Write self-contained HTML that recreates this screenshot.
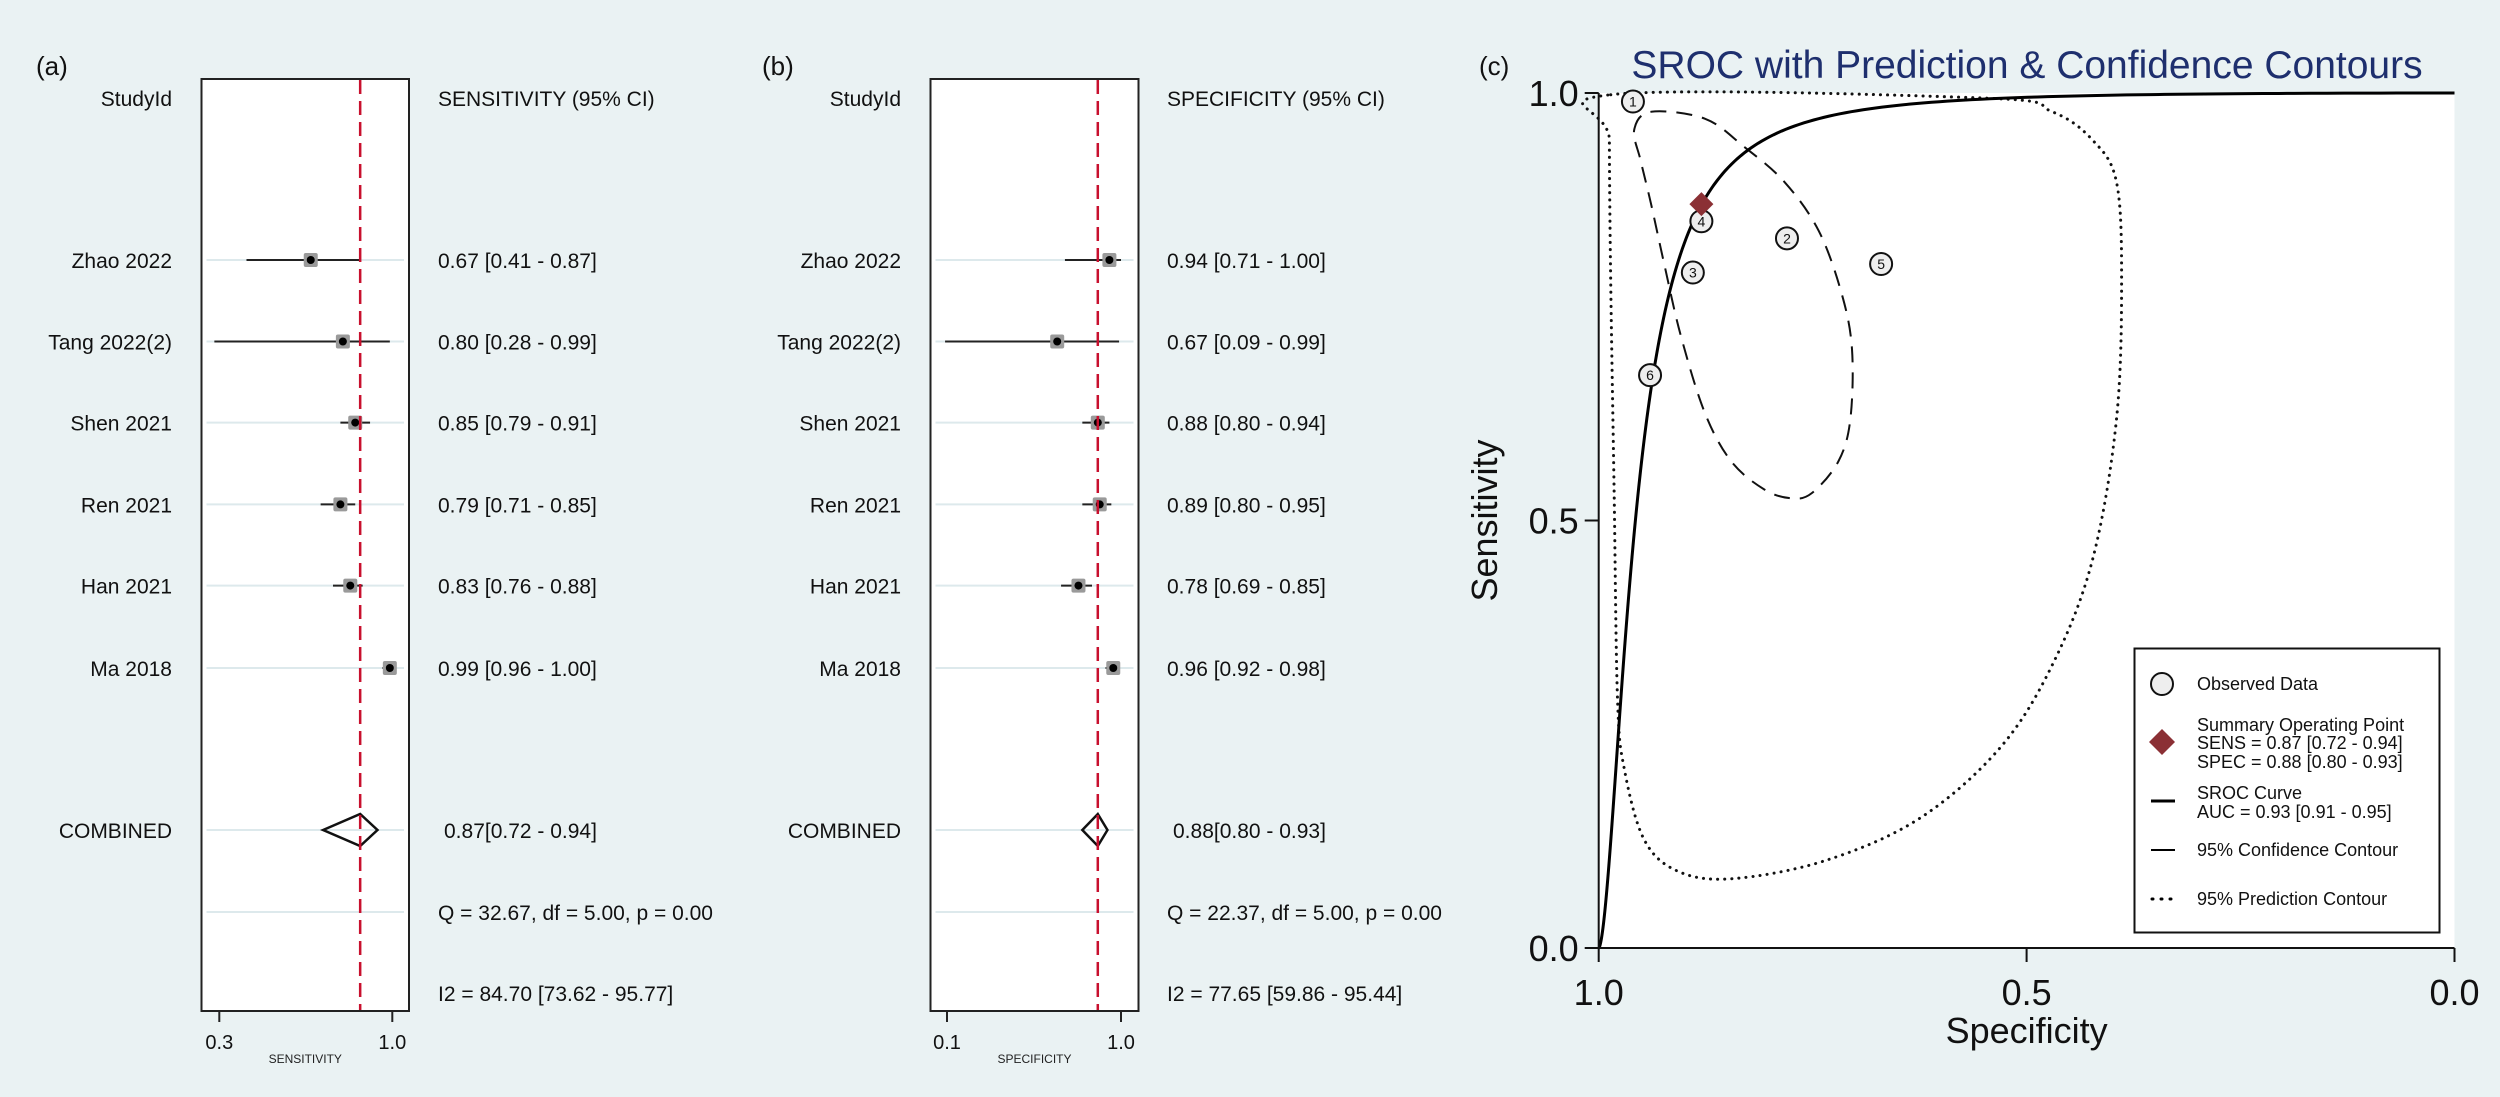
<!DOCTYPE html>
<html><head><meta charset="utf-8">
<style>
html,body{margin:0;padding:0;background:#eaf2f3;}
svg{display:block;font-family:"Liberation Sans",sans-serif;}
</style></head>
<body>
<svg id="fig" width="2500" height="1097" viewBox="0 0 2500 1097" xmlns="http://www.w3.org/2000/svg">
<rect width="2500" height="1097" fill="#eaf2f3"/>
<g id="pa"></g>
<g id="pb"></g>
<g id="pc"></g>
</svg>
<script>
const studies = ["Zhao 2022","Tang 2022(2)","Shen 2021","Ren 2021","Han 2021","Ma 2018"];
const sensEst = [0.67,0.80,0.85,0.79,0.83,0.99];
const sensLo  = [0.41,0.28,0.79,0.71,0.76,0.96];
const sensHi  = [0.87,0.99,0.91,0.85,0.88,1.00];
const specEst = [0.94,0.67,0.88,0.89,0.78,0.96];
const specLo  = [0.71,0.09,0.80,0.80,0.69,0.92];
const specHi  = [1.00,0.99,0.94,0.95,0.85,0.98];
const sensPooled = [0.87,0.72,0.94];
const specPooled = [0.88,0.80,0.93];
const sensStats = ["Q = 32.67, df = 5.00, p =  0.00","I2 = 84.70 [73.62 - 95.77]"];
const specStats = ["Q = 22.37, df = 5.00, p =  0.00","I2 = 77.65 [59.86 - 95.44]"];
const sensTicks = [0.3,1.0];
const specTicks = [0.1,1.0];
// SROC (c)
const pointLabels = ["1","2","3","4","5","6"];
const srocSens = [0.99,0.83,0.79,0.85,0.80,0.67];
const srocSpec = [0.96,0.78,0.89,0.88,0.67,0.94];
const summarySens = 0.87, summarySpec = 0.88;
const srocParams = [5.28,1.7]; // logit(sens)=a+b*logit(1-spec)
const confSpec = [.9585,.939,.876,.830,.783,.743,.716,.704,.706,.720,.751,.775,.806,.845,.876,.904,.923,.939,.951];
const confSens = [.957,.978,.970,.937,.896,.839,.765,.700,.618,.569,.532,.526,.536,.569,.626,.716,.798,.871,.921];
const predSpec = [.986,.548,.470,.423,.395,.389,.395,.423,.470,.532,.626,.736,.845,.908,.947,.970,.978,.982,.986,.9875];
const predSens = [.998,.994,.978,.945,.896,.782,.618,.454,.331,.233,.151,.102,.081,.090,.127,.209,.291,.536,.782,.945];
const axisTicks = [0,0.5,1];
const axisTickLabels = ["0.0","0.5","1.0"];

const NS="http://www.w3.org/2000/svg";
function mk(parent,tag,attrs,text){const e=document.createElementNS(NS,tag);for(const k in attrs)e.setAttribute(k,attrs[k]);if(text!==undefined)e.textContent=text;parent.appendChild(e);return e;}

const rowY=[260,341.5,422.6,504.4,585.6,668];
const combY=830, qY=912, iY=993;

function forest(g,o){
  const box=mk(g,'rect',{x:o.bx0,y:79,width:o.bx1-o.bx0,height:1011-79,fill:'#fff',stroke:'#222','stroke-width':2});
  
  
  const X=v=>o.t0x+(v-o.ticks[0])/(o.ticks[1]-o.ticks[0])*(o.t1x-o.t0x);
  const lab=mk(g,'text',{x:o.lx,y:75,'font-size':26,fill:'#111'},o.label);
  
  
  const h1=mk(g,'text',{x:o.nameX,y:106,'font-size':21,'text-anchor':'end',fill:'#111'},'StudyId');
  
  
  const h2=mk(g,'text',{x:o.valX,y:106,'font-size':21,fill:'#111'},o.header);
  
  
  [...rowY,combY,qY].forEach(y=>{const l=mk(g,'line',{x1:o.bx0+5,x2:o.bx1-5,y1:y,y2:y,stroke:'#dde9ec','stroke-width':2});
    
    });
  for(let i=0;i<studies.length;i++){
    const y=rowY[i];
    const n=mk(g,'text',{x:o.nameX,y:y+8,'font-size':21,'text-anchor':'end',fill:'#111'},studies[i]);
    
    
    const ci=mk(g,'line',{x1:X(o.lo[i]),x2:X(o.hi[i]),y1:y,y2:y,stroke:'#222','stroke-width':2});
    
    
    const sq=mk(g,'rect',{x:X(o.est[i])-7,y:y-7,width:14,height:14,rx:2,fill:'#9a9a9a'});
    
    
    const d=mk(g,'circle',{cx:X(o.est[i]),cy:y,r:4,fill:'#000'});
    
    
    const v=mk(g,'text',{x:o.valX,y:y+8,'font-size':21,fill:'#111'},o.est[i].toFixed(2)+' ['+o.lo[i].toFixed(2)+' - '+o.hi[i].toFixed(2)+']');
    
    
  }
  const p=o.pooled;
  const dm=mk(g,'polygon',{points:`${X(p[1])},${combY} ${X(p[0])},${combY-16} ${X(p[2])},${combY} ${X(p[0])},${combY+16}`,fill:'none',stroke:'#111','stroke-width':2.5});
  
  
  const rl=mk(g,'line',{x1:X(p[0]),x2:X(p[0]),y1:80,y2:1010,stroke:'#c8102e','stroke-width':2.5,'stroke-dasharray':'14 7'});
  
  
  const cn=mk(g,'text',{x:o.nameX,y:combY+8,'font-size':21,'text-anchor':'end',fill:'#111'},'COMBINED');
  
  
  const cv=mk(g,'text',{x:o.valX+6,y:combY+8,'font-size':21,fill:'#111'},p[0].toFixed(2)+'['+p[1].toFixed(2)+' - '+p[2].toFixed(2)+']');
  
  
  const q=mk(g,'text',{x:o.valX,y:qY+8,'font-size':21,fill:'#111'},o.stats[0]);
  
  
  const i2=mk(g,'text',{x:o.valX,y:iY+8,'font-size':21,fill:'#111'},o.stats[1]);
  
  
  o.ticks.forEach(t=>{
    const tk=mk(g,'line',{x1:X(t),x2:X(t),y1:1011,y2:1022,stroke:'#222','stroke-width':2});
    
    
    const tl=mk(g,'text',{x:X(t),y:1049,'font-size':20,'text-anchor':'middle',fill:'#111'},t.toFixed(1));
    
    
  });
  const at=mk(g,'text',{x:(o.bx0+o.bx1)/2,y:1063,'font-size':12,'text-anchor':'middle',fill:'#222'},o.axis);
  
  
}
forest(document.getElementById('pa'),{bx0:201.5,bx1:409,t0x:219.3,t1x:392.3,ticks:sensTicks,est:sensEst,lo:sensLo,hi:sensHi,pooled:sensPooled,stats:sensStats,nameX:172,valX:438,lx:36,label:'(a)',header:'SENSITIVITY (95% CI)',axis:'SENSITIVITY'});
forest(document.getElementById('pb'),{bx0:930.5,bx1:1138.5,t0x:947,t1x:1121,ticks:specTicks,est:specEst,lo:specLo,hi:specHi,pooled:specPooled,stats:specStats,nameX:901,valX:1167,lx:762,label:'(b)',header:'SPECIFICITY (95% CI)',axis:'SPECIFICITY'});

// Panel C
(function(){
  const g=document.getElementById('pc');
  const x0=1598.7,x1=2454.5,y0=93,y1=948;
  const X=spec=>x0+(1-spec)*(x1-x0);
  const Y=sens=>y1-sens*(y1-y0);
  const pa=mk(g,'rect',{x:x0,y:y0,width:x1-x0,height:y1-y0,fill:'#fff'});
  
  
  const lab=mk(g,'text',{x:1479,y:75,'font-size':26,fill:'#111'},'(c)');
  
  
  const tt=mk(g,'text',{x:2027,y:78,'font-size':39,'text-anchor':'middle',fill:'#1e2f6e'},'SROC with Prediction & Confidence Contours');
  
  
  // smooth closed path
  function smooth(xs,ys,closed){
    const P=xs.map((s,i)=>[X(s),Y(ys[i])]);const n=P.length;let d=`M${P[0][0]},${P[0][1]}`;
    const last=closed?n:n-1;
    for(let i=0;i<last;i++){
      const p0=P[(i-1+n)%n],p1=P[i],p2=P[(i+1)%n],p3=P[(i+2)%n];
      d+=` C${p1[0]+(p2[0]-p0[0])/6},${p1[1]+(p2[1]-p0[1])/6} ${p2[0]-(p3[0]-p1[0])/6},${p2[1]-(p3[1]-p1[1])/6} ${p2[0]},${p2[1]}`;
    }
    return d+(closed?'Z':'');
  }
  const pred=mk(g,'path',{d:smooth(predSpec,predSens,true),fill:'none',stroke:'#111','stroke-width':3,'stroke-dasharray':'0.1 7','stroke-linecap':'round'});
  
  
  const conf=mk(g,'path',{d:smooth(confSpec,confSens,true),fill:'none',stroke:'#111','stroke-width':2,'stroke-dasharray':'16 10'});
  
  
  // SROC curve
  let d='';
  for(let k=0;k<=600;k++){
    const fpr=Math.pow(10,-6+6*k/600);const f=Math.min(fpr,0.999999);
    const lt=srocParams[0]+srocParams[1]*Math.log(f/(1-f));const s=1/(1+Math.exp(-lt));
    d+=(k?'L':'M')+X(1-f)+','+Y(s);
  }
  d+='L'+X(0)+','+Y(1);
  const sc=mk(g,'path',{d:'M'+X(1)+','+Y(0)+'L'+d.slice(1),fill:'none',stroke:'#000','stroke-width':3});
  
  
  for(let i=0;i<srocSens.length;i++){
    const c=mk(g,'circle',{cx:X(srocSpec[i]),cy:Y(srocSens[i]),r:11,fill:'#eeeeee',stroke:'#111','stroke-width':2});
    
    
    const t=mk(g,'text',{x:X(srocSpec[i]),y:Y(srocSens[i])+5,'font-size':14,'text-anchor':'middle',fill:'#111'},pointLabels[i]);
    
    
  }
  const sx=X(summarySpec),sy=Y(summarySens);
  const sp=mk(g,'polygon',{points:`${sx-12},${sy} ${sx},${sy-12} ${sx+12},${sy} ${sx},${sy+12}`,fill:'#8b3035'});
  
  
  // axes
  const ya=mk(g,'line',{x1:x0,x2:x0,y1:y0,y2:y1+1,stroke:'#111','stroke-width':2});
  
  
  const xa=mk(g,'line',{x1:x0-1,x2:x1,y1:y1,y2:y1,stroke:'#111','stroke-width':2});
  
  
  axisTicks.forEach((t,i)=>{
    const a=mk(g,'line',{x1:x0-14,x2:x0,y1:Y(t),y2:Y(t),stroke:'#111','stroke-width':2});
    
    
    const b=mk(g,'text',{x:x0-20,y:Y(t)+13,'font-size':36,'text-anchor':'end',fill:'#111'},axisTickLabels[i]);
    
    
    const c=mk(g,'line',{x1:X(t),x2:X(t),y1:y1,y2:y1+14,stroke:'#111','stroke-width':2});
    
    
    const e=mk(g,'text',{x:X(t),y:1005,'font-size':36,'text-anchor':'middle',fill:'#111'},axisTickLabels[i]);
    
    
  });
  const xt=mk(g,'text',{x:(x0+x1)/2,y:1043,'font-size':36,'text-anchor':'middle',fill:'#111'},'Specificity');
  
  
  const yt=mk(g,'text',{x:0,y:0,'font-size':36,'text-anchor':'middle',fill:'#111',transform:`translate(1497,${(y0+y1)/2}) rotate(-90)`},'Sensitivity');
  
  
  // legend
  const lg=mk(g,'g',{});
  
  
  mk(lg,'rect',{x:2134.5,y:648.5,width:305,height:284,fill:'#fff',stroke:'#111','stroke-width':2});
  const lc=mk(lg,'circle',{cx:2162,cy:684,r:11,fill:'#eeeeee',stroke:'#111','stroke-width':2});
  
  
  mk(lg,'polygon',{points:'2149,742 2162,729 2175,742 2162,755',fill:'#8b3035'});
  mk(lg,'line',{x1:2151,x2:2175,y1:801,y2:801,stroke:'#000','stroke-width':3});
  mk(lg,'line',{x1:2151,x2:2175,y1:850,y2:850,stroke:'#000','stroke-width':2});
  mk(lg,'path',{d:'M2152,899 h1 M2161,899 h1 M2170,899 h1',stroke:'#000','stroke-width':3,'stroke-linecap':'round'});
  const items=[["Observed Data",690],["Summary Operating Point",731],["SENS = 0.87 [0.72 - 0.94]",749],["SPEC = 0.88 [0.80 - 0.93]",768],["SROC Curve",799],["AUC = 0.93 [0.91 - 0.95]",818],["95% Confidence Contour",856],["95% Prediction Contour",905]];
  items.forEach(it=>{const t=mk(lg,'text',{x:2197,y:it[1],'font-size':18,fill:'#111'},it[0]);
    
    });
})();
</script>
</body></html>
